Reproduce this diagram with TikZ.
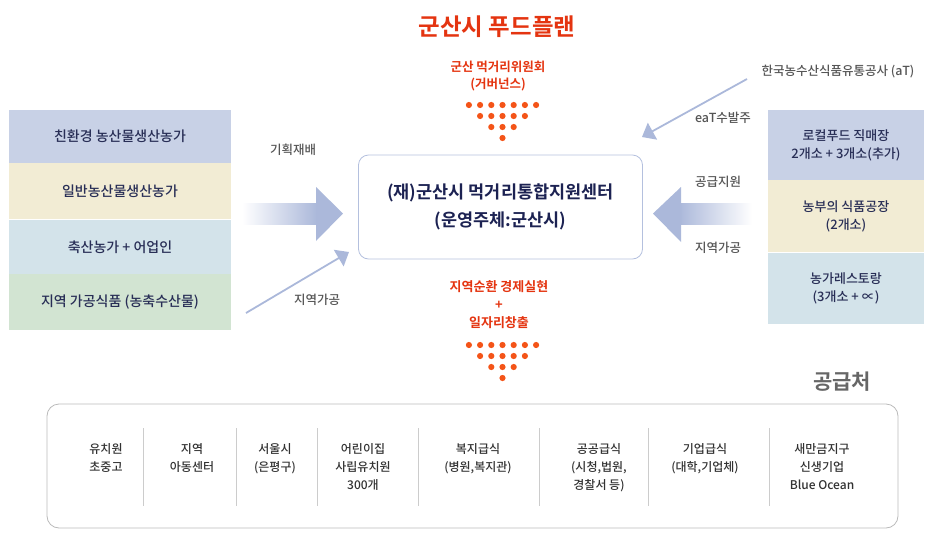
\documentclass[tikz,border=0pt]{standalone}
\usepackage{fontspec}
\setmainfont{Noto Sans CJK KR}[UprightFont=* Medium, BoldFont=* Bold]
\usetikzlibrary{arrows.meta,positioning}
\begin{document}
\begin{tikzpicture}[x=1pt, y=-1pt, line join=round,
    farmrow/.style={minimum width=222, inner sep=0, text=navytext,
      font=\fontsize{14}{18}\selectfont, align=center},
    outrow/.style={minimum width=156, inner sep=0, text=navytext,
      font=\fontsize{13}{18}\selectfont, align=center},
    flowlabel/.style={text=labelgray, inner sep=0, font=\fontsize{12.5}{15}\selectfont},
    redlabel/.style={text=planred, inner sep=0, align=center,
      font=\bfseries\fontsize{12.5}{17.5}\selectfont},
    usercol/.style={anchor=north, inner sep=0, text=usertext, align=center,
      font=\fontsize{12}{18}\selectfont},
    thinflow/.style={draw=flowblue, line width=1.8, -{Triangle[length=12,width=19]}}]
  \definecolor{planred}{RGB}{228,52,16}
  \definecolor{dotred}{RGB}{244,84,24}
  \definecolor{navytext}{RGB}{40,46,86}
  \definecolor{centertext}{RGB}{28,34,82}
  \definecolor{rowblue}{RGB}{200,209,230}
  \definecolor{rowcream}{RGB}{242,236,212}
  \definecolor{rowsky}{RGB}{211,227,234}
  \definecolor{rowgreen}{RGB}{210,228,210}
  \definecolor{flowblue}{RGB}{171,184,218}
  \definecolor{boxline}{RGB}{180,192,222}
  \definecolor{labelgray}{RGB}{85,85,85}
  \definecolor{usertext}{RGB}{50,50,50}
  \useasboundingbox (0,0) rectangle (935,544);

  % title and committee
  \node[text=planred, font=\bfseries\fontsize{23.5}{26}\selectfont] (title) at (497,27) {군산시 푸드플랜};
  \node[redlabel] (council) at (498,76) {군산 먹거리위원회\\(거버넌스)};
  \foreach \r/\n in {0/3,1/2,2/1,3/0}
    \foreach \c in {-\n,...,\n}
      \fill[dotred] (502.5+\c*11.2, 105+\r*11) circle (3.1);

  % centre
  \node[draw=boxline, line width=0.8, rounded corners=10, minimum width=284,
    minimum height=104, text=centertext, align=center,
    font=\bfseries\fontsize{17.5}{28}\selectfont] (center) at (500.5,207)
    {(재)군산시 먹거리통합지원센터\\(운영주체:군산시)};
  \node[redlabel, font=\bfseries\fontsize{13}{18}\selectfont] (jobs) at (499,305)
    {지역순환 경제실현\\+\\일자리창출};
  \foreach \r/\n in {0/3,1/2,2/1,3/0}
    \foreach \c in {-\n,...,\n}
      \fill[dotred] (502.5+\c*11.2, 345+\r*11) circle (3.1);

  % producers
  \node[farmrow, fill=rowblue, minimum height=53] (eco) at (120,136.5) {친환경 농산물생산농가};
  \node[farmrow, fill=rowcream, minimum height=56, below=0 of eco] (general) {일반농산물생산농가};
  \node[farmrow, fill=rowsky, minimum height=54, below=0 of general] (livestock) {축산농가 + 어업인};
  \node[farmrow, fill=rowgreen, minimum height=56, below=0 of livestock] (processed) {지역 가공식품 (농축수산물)};

  \shade[left color=white, right color=flowblue] (242,203) rectangle (317,224);
  \fill[flowblue] (316,187) -- (343,213.5) -- (316,241) -- cycle;
  \node[flowlabel] (plan) at (293,150) {기획재배};
  \coordinate (procstart) at (246,313);
  \coordinate (procend) at (349,252);
  \draw[thinflow] (procstart) -- (procend);
  \node[flowlabel] (procleft) at (317,300) {지역가공};

  % outlets
  \node[outrow, fill=rowblue, minimum height=70] (direct) at (846,145) {로컬푸드 직매장\\2개소 + 3개소(추가)};
  \node[outrow, fill=rowcream, minimum height=72, below=0 of direct] (factory) {농부의 식품공장\\(2개소)};
  \node[outrow, fill=rowsky, minimum height=71, below=0 of factory] (restaurant) {농가레스토랑\\(3개소 + ∝)};

  \shade[left color=flowblue, right color=white] (679,203) rectangle (752,224);
  \fill[flowblue] (681,187) -- (653,213.5) -- (681,242) -- cycle;
  \node[flowlabel] (support) at (718,182) {공급지원};
  \node[flowlabel] (procright) at (718,248) {지역가공};
  \node[flowlabel] (at) at (838,72) {한국농수산식품유통공사 (aT)};
  \coordinate (atstart) at (747,79);
  \coordinate (atend) at (642,137);
  \draw[thinflow] (atstart) -- (atend);
  \node[flowlabel] (eat) at (723,118) {eaT수발주};

  % suppliers
  \node[text=black!60, font=\bfseries\fontsize{21}{24}\selectfont] (supply) at (842,382) {공급처};
  \draw[black!27, line width=0.8, rounded corners=12] (47,404) rectangle (898,528);
  \foreach \x in {143,236,317,418,539,648,769}
    \draw[black!20, line width=0.8] (\x,428) -- (\x,506);
  \node[usercol] (school) at (106,443) {유치원\\초중고};
  \node[usercol] (childcare) at (192,443) {지역\\아동센터};
  \node[usercol] (seoul) at (275,443) {서울시\\(은평구)};
  \node[usercol] (nursery) at (363,443) {어린이집\\사립유치원\\300개};
  \node[usercol] (welfare) at (478,443) {복지급식\\(병원,복지관)};
  \node[usercol] (public) at (599,443) {공공급식\\(시청,법원,\\경찰서 등)};
  \node[usercol] (company) at (705,443) {기업급식\\(대학,기업체)};
  \node[usercol] (saemangeum) at (822,443) {새만금지구\\신생기업\\Blue Ocean};
\end{tikzpicture}
\end{document}
